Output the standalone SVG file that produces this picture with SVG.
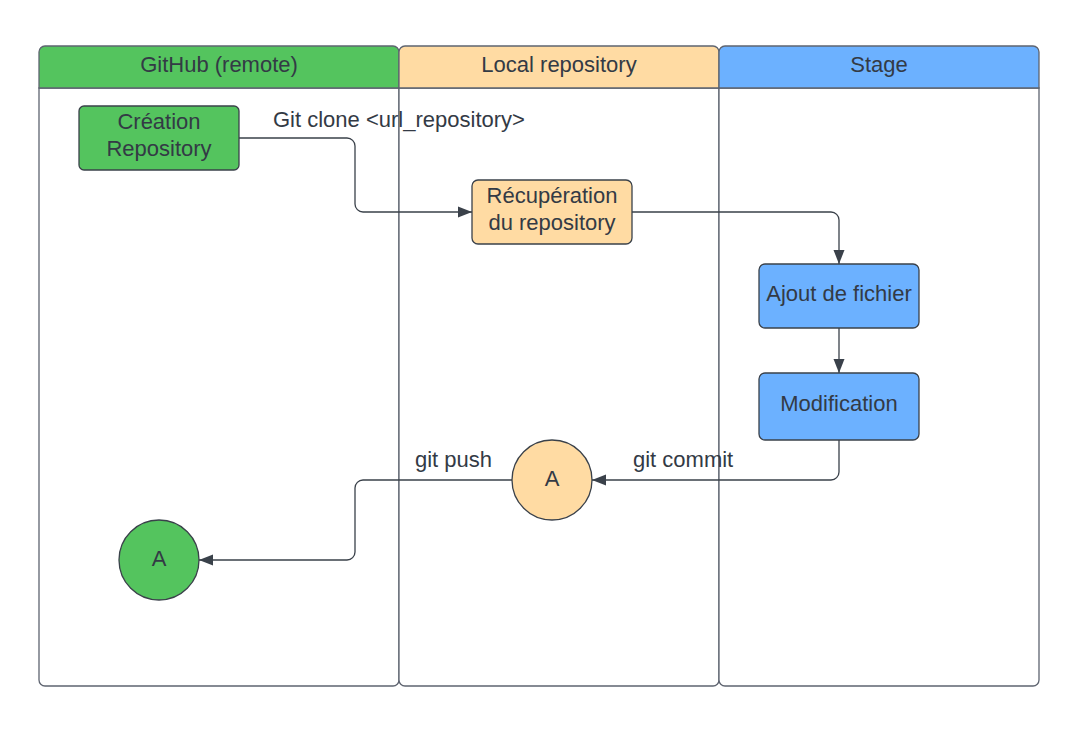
<svg xmlns="http://www.w3.org/2000/svg" width="1075" height="729" viewBox="0 0 1075 729">
<defs>
<style>
.lane{fill:#ffffff;stroke:#5e6470;stroke-width:1.3}
.t{font-family:"Liberation Sans",Arial,sans-serif;font-size:22px;fill:#333a45;text-anchor:middle}
.lbl{font-family:"Liberation Sans",Arial,sans-serif;font-size:22px;fill:#333a45}
.node{stroke:#3a414a;stroke-width:1.3}
.g{fill:#54c45e}.o{fill:#ffdba3}.b{fill:#6cb1ff}
.c{fill:none;stroke:#3a414a;stroke-width:1.3}
</style>
<marker id="ah" viewBox="0 0 14 12" refX="14" refY="6" markerWidth="14" markerHeight="12" markerUnits="userSpaceOnUse" orient="auto">
<path d="M0,0.5 L14,6 L0,11.5 Z" fill="#3a414a"/>
</marker>
</defs>
<rect width="1075" height="729" fill="#ffffff"/>
<g id="lane-github">
<path class="lane" d="M39,88 V680 a6,6 0 0 0 6,6 H393 a6,6 0 0 0 6,-6 V88 Z"/>
<path class="lane g" d="M45,46 H393 a6,6 0 0 1 6,6 V88 H39 V52 a6,6 0 0 1 6,-6 Z"/>
<text class="t" x="219" y="72">GitHub (remote)</text>
</g>
<g id="lane-local">
<path class="lane" d="M399,88 V680 a6,6 0 0 0 6,6 H713 a6,6 0 0 0 6,-6 V88 Z"/>
<path class="lane o" d="M405,46 H713 a6,6 0 0 1 6,6 V88 H399 V52 a6,6 0 0 1 6,-6 Z"/>
<text class="t" x="559" y="72">Local repository</text>
</g>
<g id="lane-stage">
<path class="lane" d="M719,88 V680 a6,6 0 0 0 6,6 H1033 a6,6 0 0 0 6,-6 V88 Z"/>
<path class="lane b" d="M725,46 H1033 a6,6 0 0 1 6,6 V88 H719 V52 a6,6 0 0 1 6,-6 Z"/>
<text class="t" x="879" y="72">Stage</text>
</g>
<g id="connectors">
<path class="c" d="M239,138 H347 a8,8 0 0 1 8,8 V204 a8,8 0 0 0 8,8 H472" marker-end="url(#ah)"/>
<path class="c" d="M632,212 H831 a8,8 0 0 1 8,8 V264" marker-end="url(#ah)"/>
<path class="c" d="M839,328 V373" marker-end="url(#ah)"/>
<path class="c" d="M839,440 V472 a8,8 0 0 1 -8,8 H592" marker-end="url(#ah)"/>
<path class="c" d="M512,480 H363 a8,8 0 0 0 -8,8 V552 a8,8 0 0 1 -8,8 H199" marker-end="url(#ah)"/>
<text class="lbl" x="273" y="127">Git clone &lt;url_repository&gt;</text>
<text class="lbl" x="633" y="467">git commit</text>
<text class="lbl" x="415" y="467">git push</text>
</g>
<g id="creation">
<rect class="node g" x="79" y="106" width="160" height="64" rx="5"/>
<text class="t" x="159" y="129">Création</text>
<text class="t" x="159" y="156">Repository</text>
</g>
<g id="recuperation">
<rect class="node o" x="472" y="180" width="160" height="64" rx="6"/>
<text class="t" x="552" y="203">Récupération</text>
<text class="t" x="552" y="230">du repository</text>
</g>
<g id="ajout">
<rect class="node b" x="759" y="264" width="160" height="64" rx="6"/>
<text class="t" x="839" y="301">Ajout de fichier</text>
</g>
<g id="modification">
<rect class="node b" x="759" y="373" width="160" height="67" rx="6"/>
<text class="t" x="839" y="411">Modification</text>
</g>
<g id="circle-local">
<circle class="node o" cx="552" cy="480" r="40"/>
<text class="t" x="552" y="486">A</text>
</g>
<g id="circle-github">
<circle class="node g" cx="159" cy="560" r="40"/>
<text class="t" x="159" y="566">A</text>
</g>
</svg>
